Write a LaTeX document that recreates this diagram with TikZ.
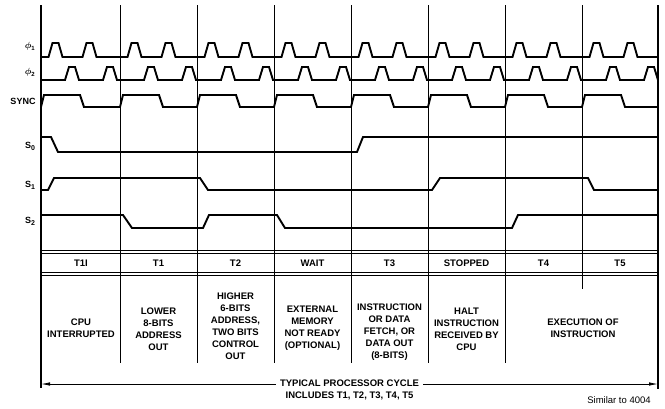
\documentclass[tikz,border=0pt]{standalone}
\usepackage{amsmath}
\usepackage{fontspec}
\setmainfont{Liberation Sans}
\usetikzlibrary{arrows.meta}
\begin{document}
\begin{tikzpicture}[x=1pt,y=-1pt,
  wave/.style={line width=1.9pt, line join=miter},
  gridline/.style={line width=0.9pt},
  dbl/.style={line width=0.8pt},
  lbl/.style={font=\fontsize{9.5}{12}\selectfont\bfseries, align=center, inner sep=0pt},
  sig/.style={font=\fontsize{9}{10}\selectfont\bfseries, inner sep=0pt}]
\useasboundingbox (0,0) rectangle (665,408);
% grid
\foreach \x in {120,197,274,351,428,505} \draw[gridline] (\x,5) -- (\x,363);
\draw[gridline] (582,5) -- (582,289);
\draw[line width=1.3pt] (41,5) -- (41,388);
\draw[line width=1.1pt] (658,5) -- (658,389);
% phi1
\draw[wave] (41,57) \foreach \x in {41,120,197,274,351,428,505,582} {
  -- (\x+7.5,57) -- (\x+11.5,43) -- (\x+17.5,43) -- (\x+21.5,57)
  -- (\x+41.5,57) -- (\x+45.5,43) -- (\x+51.5,43) -- (\x+55.5,57) } -- (658,57);
% phi2
\draw[wave] (41,80) \foreach \x in {41,120,197,274,351,428,505,582} {
  -- (\x+24,80) -- (\x+28,67) -- (\x+34,67) -- (\x+38,80)
  -- (\x+62,80) -- (\x+66,67) -- (\x+72,67) -- (\x+76,80) } -- (658,80);
% SYNC
\draw[wave] (41,107) \foreach \x in {41,120,197,274,351,428,505,582} {
  -- (\x,107) -- (\x+3,95) -- (\x+39,95) -- (\x+43,107) } -- (658,107);
% S0, S1, S2
\draw[wave] (41,137) -- (51,137) -- (58,152) -- (357,152) -- (363,137) -- (658,137);
\draw[wave] (41,190) -- (48,190) -- (54,178) -- (200,178) -- (208,190) -- (432,190)
  -- (440,178) -- (588,178) -- (594,190) -- (658,190);
\draw[wave] (41,215) -- (123,215) -- (132,228) -- (203,228) -- (209,215) -- (277,215)
  -- (285,228) -- (512,228) -- (518,215) -- (658,215);
% signal labels
\node[inner sep=0pt, font=\small] (p1) at (30,46) {$\boldsymbol{\phi}_{\mathbf{1}}$};
\node[inner sep=0pt, font=\small] (p2) at (30,72) {$\boldsymbol{\phi}_{\mathbf{2}}$};
\node[sig] (sync) at (23,101) {SYNC};
\node[sig] (s0) at (30,146) {S\raisebox{-0.45ex}{\fontsize{7}{8}\selectfont 0}};
\node[sig] (s1) at (30,185) {S\raisebox{-0.45ex}{\fontsize{7}{8}\selectfont 1}};
\node[sig] (s2) at (30,221) {S\raisebox{-0.45ex}{\fontsize{7}{8}\selectfont 2}};
% table double lines
\foreach \y in {250.5,253.5,272,275} \draw[dbl] (41,\y) -- (658,\y);
% state labels
\node[lbl] (t1i) at (81,263) {T1I};
\node[lbl] (t1) at (158.5,263) {T1};
\node[lbl] (t2) at (235.5,263) {T2};
\node[lbl] (wait) at (312.5,263) {WAIT};
\node[lbl] (t3) at (389.5,263) {T3};
\node[lbl] (stop) at (466.5,263) {STOPPED};
\node[lbl] (t4) at (543.5,263) {T4};
\node[lbl] (t5) at (620,263) {T5};
% descriptions
\node[lbl] (d0) at (81,328) {CPU\\INTERRUPTED};
\node[lbl] (d1) at (158.5,329.5) {LOWER\\8-BITS\\ADDRESS\\OUT};
\node[lbl] (d2) at (235.5,326.5) {HIGHER\\6-BITS\\ADDRESS,\\TWO BITS\\CONTROL\\OUT};
\node[lbl] (d3) at (312.5,328.5) {EXTERNAL\\MEMORY\\NOT READY\\(OPTIONAL)};
\node[lbl] (d4) at (389.5,332.5) {INSTRUCTION\\OR DATA\\FETCH, OR\\DATA OUT\\(8-BITS)};
\node[lbl] (d5) at (466.5,329) {HALT\\INSTRUCTION\\RECEIVED BY\\CPU};
\node[lbl] (d6) at (583,328) {EXECUTION OF\\INSTRUCTION};
% cycle arrow
\coordinate (aL) at (41,384);
\coordinate (aR) at (658,384);
\draw[line width=0.8pt, {Latex[length=9pt,width=3.5pt]}-{Latex[length=9pt,width=3.5pt]}] (aL) -- (aR);
\node[lbl, fill=white, inner xsep=4pt, inner ysep=1pt] (cyc) at (349.5,383) {TYPICAL PROCESSOR CYCLE};
\node[lbl] (inc) at (349.5,396) {INCLUDES T1, T2, T3, T4, T5};
\node[inner sep=0pt, font=\fontsize{9.5}{11}\selectfont] (sim) at (619,400) {Similar to 4004};
\end{tikzpicture}
\end{document}
